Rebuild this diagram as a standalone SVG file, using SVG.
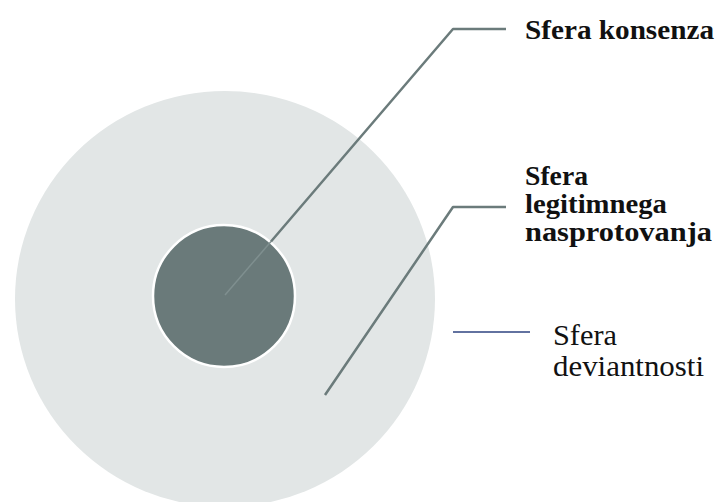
<svg xmlns="http://www.w3.org/2000/svg" width="718" height="502" viewBox="0 0 718 502">
<style>
.lbl{font-family:"Liberation Serif","Times New Roman",serif;fill:#111}
.b{font-weight:bold;font-size:27px}
.r{font-size:30px}
.lead{fill:none;stroke:#6b7b7b;stroke-width:2.5;stroke-linejoin:round}
</style>
<rect width="718" height="502" fill="#ffffff"/>
<g id="sfera-deviantnosti">
<ellipse cx="225" cy="299" rx="210" ry="208" fill="#e2e6e6"/>
</g>
<g id="sfera-konsenza">
<circle cx="224" cy="296" r="71" fill="#6a7a7a" stroke="#ffffff" stroke-width="2.5"/>
</g>
<g id="connectors">
<line x1="225" y1="295" x2="271" y2="241.5" stroke="#7f8f8f" stroke-width="1.5"/>
<polyline class="lead" points="271,241.5 453,29 506,29"/>
<polyline class="lead" points="325,395 453,207 506,207"/>
<line x1="453" y1="332" x2="530" y2="332" stroke="#6272a0" stroke-width="2"/>
</g>
<g id="labels">
<text class="lbl b" x="525" y="39" textLength="189" lengthAdjust="spacingAndGlyphs">Sfera konsenza</text>
<text class="lbl b" x="525" y="185" textLength="63" lengthAdjust="spacingAndGlyphs">Sfera</text>
<text class="lbl b" x="525" y="213" textLength="142" lengthAdjust="spacingAndGlyphs">legitimnega</text>
<text class="lbl b" x="525" y="241" textLength="187" lengthAdjust="spacingAndGlyphs">nasprotovanja</text>
<text class="lbl r" x="553" y="345" textLength="64" lengthAdjust="spacingAndGlyphs">Sfera</text>
<text class="lbl r" x="553" y="376" textLength="151" lengthAdjust="spacingAndGlyphs">deviantnosti</text>
</g>
</svg>
